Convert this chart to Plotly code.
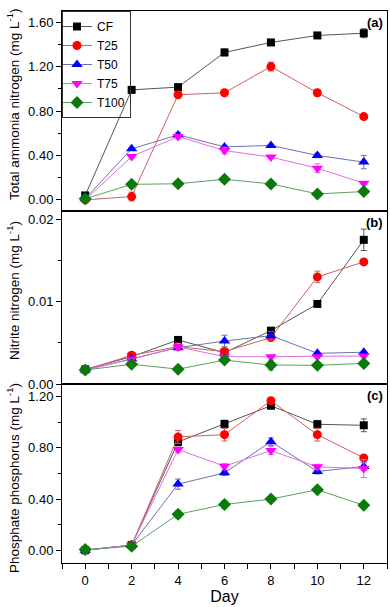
import plotly.graph_objects as go
from plotly.subplots import make_subplots

days = [0, 2, 4, 6, 8, 10, 12]
series = ["CF", "T25", "T50", "T75", "T100"]

# Panel (a) Total ammonia nitrogen (mg/L)
tan_cf = [0.04, 0.99, 1.015, 1.327, 1.417, 1.48, 1.50]
tan_t25 = [0.00, 0.03, 0.946, 0.964, 1.20, 0.964, 0.75]
tan_t50 = [0.01, 0.46, 0.585, 0.477, 0.49, 0.40, 0.34]
tan_t75 = [0.00, 0.39, 0.57, 0.444, 0.385, 0.285, 0.15]
tan_t100 = [0.01, 0.14, 0.145, 0.186, 0.144, 0.054, 0.075]
tan_err_cf = [0.01, 0.01, 0.01, 0.03, 0.015, 0.015, 0.04]
tan_err_t25 = [0.01, 0.04, 0.01, 0.02, 0.04, 0.03, 0.01]
tan_err_t50 = [0.01, 0.01, 0.02, 0.01, 0.01, 0.02, 0.06]
tan_err_t75 = [0.01, 0.02, 0.02, 0.03, 0.01, 0.04, 0.01]
tan_err_t100 = [0.01, 0.01, 0.01, 0.01, 0.01, 0.01, 0.01]

# Panel (b) Nitrite nitrogen (mg/L)
nit_cf = [0.00178, 0.00332, 0.00535, 0.0038, 0.00648, 0.00972, 0.0175]
nit_t25 = [0.0017, 0.00349, 0.00453, 0.00393, 0.00563, 0.0130, 0.01482]
nit_t50 = [0.0017, 0.00308, 0.00441, 0.00522, 0.00587, 0.00373, 0.00385]
nit_t75 = [0.0017, 0.0030, 0.0045, 0.00332, 0.00332, 0.00332, 0.0034]
nit_t100 = [0.0017, 0.0024, 0.0018, 0.0029, 0.0023, 0.00227, 0.0025]
nit_err_cf = [0.0001, 0.0001, 0.0002, 0.0002, 0.0003, 0.0002, 0.0013]
nit_err_t25 = [0.0001, 0.0001, 0.0003, 0.0002, 0.0002, 0.0007, 0.0001]
nit_err_t50 = [0.0001, 0.0001, 0.0002, 0.0007, 0.0005, 0.0001, 0.0001]
nit_err_t75 = [0.0001, 0.0001, 0.0004, 0.0001, 0.0001, 0.0001, 0.0001]
nit_err_t100 = [0.0001, 0.0001, 0.0001, 0.0002, 0.0006, 0.0001, 0.0001]

# Panel (c) Phosphate phosphorus (mg/L)
pho_cf = [0.00, 0.04, 0.847, 0.987, 1.13, 0.985, 0.977]
pho_t25 = [0.00, 0.04, 0.886, 0.904, 1.169, 0.904, 0.722]
pho_t50 = [0.00, 0.04, 0.517, 0.605, 0.849, 0.616, 0.655]
pho_t75 = [0.00, 0.04, 0.787, 0.657, 0.779, 0.652, 0.639]
pho_t100 = [0.005, 0.031, 0.281, 0.358, 0.40, 0.473, 0.351]
pho_err_cf = [0.01, 0.01, 0.03, 0.03, 0.02, 0.03, 0.05]
pho_err_t25 = [0.01, 0.01, 0.05, 0.05, 0.02, 0.05, 0.02]
pho_err_t50 = [0.01, 0.01, 0.04, 0.02, 0.03, 0.02, 0.03]
pho_err_t75 = [0.01, 0.01, 0.02, 0.02, 0.03, 0.02, 0.07]
pho_err_t100 = [0.01, 0.01, 0.03, 0.03, 0.02, 0.02, 0.02]

line_colors = ["#555555", "#d06060", "#7070b0", "#e070e0", "#60a060"]
marker_colors = ["#000000", "#ff0000", "#0000ff", "#ff00ff", "#0a7a0a"]
symbols = ["square", "circle", "triangle-up", "triangle-down", "diamond"]
msizes = [8, 9, 10, 10, 10]

panels = [
    ([tan_cf, tan_t25, tan_t50, tan_t75, tan_t100],
     [tan_err_cf, tan_err_t25, tan_err_t50, tan_err_t75, tan_err_t100]),
    ([nit_cf, nit_t25, nit_t50, nit_t75, nit_t100],
     [nit_err_cf, nit_err_t25, nit_err_t50, nit_err_t75, nit_err_t100]),
    ([pho_cf, pho_t25, pho_t50, pho_t75, pho_t100],
     [pho_err_cf, pho_err_t25, pho_err_t50, pho_err_t75, pho_err_t100]),
]

fig = make_subplots(rows=3, cols=1, shared_xaxes=True, vertical_spacing=0,
                    row_heights=[200, 173, 179])

for r, (vals, errs) in enumerate(panels, start=1):
    for i, name in enumerate(series):
        fig.add_trace(go.Scatter(
            x=days, y=vals[i], name=name, mode="lines+markers",
            showlegend=(r == 1),
            line=dict(color=line_colors[i], width=1),
            marker=dict(symbol=symbols[i], size=msizes[i], color=marker_colors[i],
                        line=dict(width=0)),
            error_y=dict(type="data", array=errs[i], visible=True,
                         color=line_colors[i], thickness=1, width=3),
        ), row=r, col=1)

font = "Liberation Sans, Arial, sans-serif"
axis_common = dict(showline=True, linecolor="black", linewidth=1, mirror=True,
                   showgrid=False, zeroline=False,
                   tickfont=dict(family=font, size=13, color="black"))

for r in (1, 2, 3):
    fig.update_xaxes(range=[-1, 13], tick0=0, dtick=2, row=r, col=1, **axis_common)
fig.update_xaxes(ticks="", showticklabels=False, row=1, col=1)
fig.update_xaxes(ticks="", showticklabels=False, row=2, col=1)
fig.update_xaxes(ticks="outside", ticklen=5, tickcolor="black", showticklabels=True,
                 minor=dict(dtick=1, ticks="outside", ticklen=5, tickcolor="black"),
                 title=dict(text="Day", font=dict(family=font, size=16, color="black"),
                            standoff=4),
                 row=3, col=1)

fig.update_yaxes(range=[-0.1, 1.70], tick0=0, dtick=0.4, tickformat=".2f",
                 ticks="outside", ticklen=5, tickcolor="black",
                 minor=dict(dtick=0.2, ticks="outside", ticklen=3, tickcolor="black"),
                 row=1, col=1, **axis_common)
fig.update_yaxes(range=[0, 0.021], tick0=0, dtick=0.01, tickformat=".2f",
                 ticks="outside", ticklen=5, tickcolor="black",
                 minor=dict(dtick=0.005, ticks="outside", ticklen=3, tickcolor="black"),
                 row=2, col=1, **axis_common)
fig.update_yaxes(range=[-0.1, 1.30], tick0=0, dtick=0.4, tickformat=".2f",
                 ticks="outside", ticklen=5, tickcolor="black",
                 minor=dict(dtick=0.2, ticks="outside", ticklen=3, tickcolor="black"),
                 row=3, col=1, **axis_common)

plot_left, plot_w, plot_top, plot_h = 62, 325, 11, 552
def px_to_paper_x(px):
    return (px - plot_left) / plot_w
def py_to_paper_y(py):
    return 1 - (py - plot_top) / plot_h

titles = [
    ("Total ammonia nitrogen (mg L<sup>-1</sup>)", 104),
    ("Nitrite nitrogen (mg L<sup>-1</sup>)", 291),
    ("Phosphate phosphorus (mg L<sup>-1</sup>)", 478),
]
annotations = []
for text, cy in titles:
    annotations.append(dict(text=text, xref="paper", yref="paper",
                            x=px_to_paper_x(13), y=py_to_paper_y(cy),
                            xanchor="center", yanchor="middle", textangle=-90,
                            showarrow=False,
                            font=dict(family=font, size=13.5, color="black")))
for lab, ty in [("(a)", 13), ("(b)", 213), ("(c)", 386)]:
    annotations.append(dict(text="<b>" + lab + "</b>", xref="paper", yref="paper",
                            x=px_to_paper_x(385), y=py_to_paper_y(ty),
                            xanchor="right", yanchor="top", showarrow=False,
                            font=dict(family=font, size=13, color="black")))

fig.update_layout(
    width=390, height=607,
    margin=dict(l=62, r=3, t=11, b=44),
    paper_bgcolor="white", plot_bgcolor="white",
    annotations=annotations,
    legend=dict(x=0, y=1, xanchor="left", yanchor="top",
                bgcolor="rgba(255,255,255,0)", bordercolor="#333333", borderwidth=1,
                font=dict(family=font, size=12, color="black"),
                itemwidth=30, tracegroupgap=0, indentation=-6),
    showlegend=True,
)

fig.write_html("out.html", config={"displayModeBar": False},
               post_script="document.body.style.margin='0';document.body.style.overflow='hidden';")
